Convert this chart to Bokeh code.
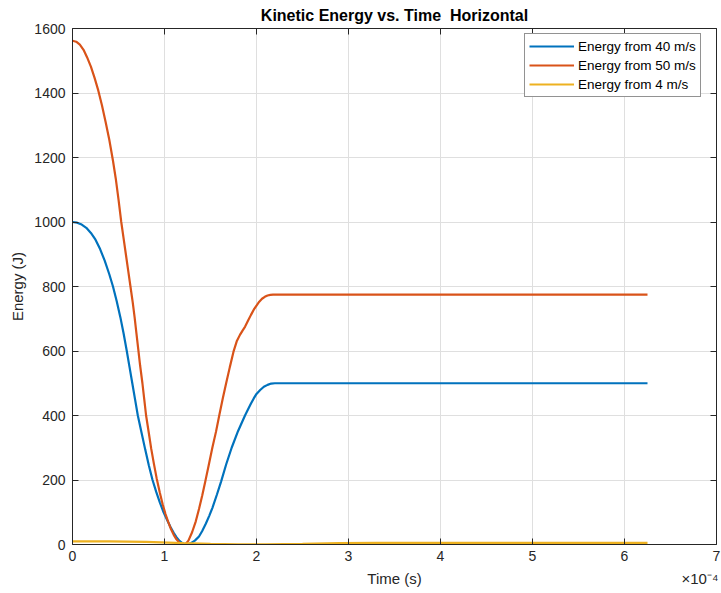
from bokeh.plotting import figure
from bokeh.models import (ColumnDataSource, FixedTicker, LinearAxis, Legend,
                          LegendItem, Range1d)
from bokeh.embed import file_html
from bokeh.resources import INLINE

# Time axis in units of 1e-4 s
t_40 = [0, 0.05, 0.1, 0.15, 0.2, 0.25, 0.3, 0.35, 0.4, 0.44, 0.48, 0.52,
        0.555, 0.59, 0.62, 0.65, 0.68, 0.71, 0.75, 0.79, 0.83, 0.87, 0.91,
        0.95, 0.99, 1.03, 1.065, 1.10, 1.13, 1.16, 1.19, 1.215, 1.24, 1.265,
        1.29, 1.33, 1.375, 1.41, 1.45, 1.485, 1.52, 1.57, 1.615, 1.67, 1.73,
        1.80, 1.875, 1.91, 1.94, 1.97, 2.0, 2.04, 2.08, 2.12, 2.16, 2.2, 6.25]
e_40 = [1000, 998, 992, 982, 966, 945, 916, 880, 838, 800, 755, 705,
        655, 600, 550, 500, 450, 400, 347, 295, 245, 200, 163,
        130, 100, 75, 54, 36, 23, 12, 5, 1.5, 0, 1.5,
        5, 12, 25, 42, 65, 88, 113, 155, 195, 248, 300,
        352, 400, 420, 437, 453, 467, 479, 489, 495, 499, 500, 500]

t_50 = [0, 0.04, 0.08, 0.12, 0.158, 0.2, 0.24, 0.28, 0.32, 0.36, 0.4, 0.44,
        0.47, 0.5, 0.53, 0.555, 0.58, 0.605, 0.63, 0.655, 0.675, 0.695, 0.715,
        0.735, 0.76, 0.78, 0.80, 0.83, 0.855, 0.885, 0.915, 0.95, 0.98, 1.01,
        1.04, 1.07, 1.10, 1.13, 1.16, 1.185, 1.21, 1.235, 1.26, 1.30, 1.34,
        1.375, 1.41, 1.445, 1.48, 1.52, 1.56, 1.595, 1.635, 1.67, 1.71, 1.75,
        1.785, 1.82, 1.85, 1.875, 1.91, 1.94, 1.97, 2.0, 2.03, 2.06, 2.09,
        2.12, 2.15, 2.18, 6.25]
e_50 = [1562, 1559, 1550, 1534, 1511, 1482, 1447, 1408, 1362, 1310, 1255, 1190,
        1135, 1070, 1000, 950, 900, 850, 800, 750, 705, 655, 605,
        555, 500, 450, 400, 345, 298, 250, 205, 160, 125, 95,
        70, 48, 30, 16, 6, 1.5, 0, 3, 12, 38, 72,
        110, 152, 198, 245, 300, 350, 400, 455, 500, 550, 598,
        630, 650, 664, 675, 695, 712, 728, 741, 753, 762, 768,
        772, 774, 775, 775]

t_4 = [0, 0.4, 0.8, 1.2, 1.5, 1.8, 2.1, 2.5, 2.9, 3.3, 6.25]
e_4 = [10, 9.8, 8, 4.5, 2, 0.5, 0.5, 2, 4, 5, 5]

x_ticks = [0, 1, 2, 3, 4, 5, 6, 7]
y_ticks = [0, 200, 400, 600, 800, 1000, 1200, 1400, 1600]

labels = ["Energy from 40 m/s", "Energy from 50 m/s", "Energy from 4 m/s"]
colors = ["#0072BD", "#D95319", "#EDB120"]

FONT = "Liberation Sans"
AX = "#262626"

p = figure(width=721, height=593, output_backend="svg", toolbar_location=None,
           x_range=Range1d(0, 7), y_range=Range1d(0, 1600),
           min_border_left=72, min_border_right=5, min_border_top=28,
           min_border_bottom=49, background_fill_color="white",
           border_fill_color="white", outline_line_color=None)

p.title.text = "Kinetic Energy vs. Time\u00a0 Horizontal"
p.title.align = "center"
p.title.text_font = FONT
p.title.text_font_size = "16px"
p.title.text_font_style = "bold"
p.title.text_color = "black"
p.title.offset = 0
p.title.standoff = 9

renderers = []
for t, e, c in [(t_40, e_40, colors[0]), (t_50, e_50, colors[1]), (t_4, e_4, colors[2])]:
    src = ColumnDataSource(dict(t=t, e=e))
    renderers.append(p.line("t", "e", source=src, line_color=c, line_width=2.2))


def style_axis(ax, show_labels=True):
    ax.axis_line_color = AX
    ax.axis_line_width = 1
    ax.major_tick_line_color = AX
    ax.major_tick_in = 6
    ax.major_tick_out = 0
    ax.minor_tick_line_color = None
    ax.major_label_text_font = FONT
    ax.major_label_text_font_size = "14px"
    ax.major_label_text_color = AX
    ax.axis_label_text_font = FONT
    ax.axis_label_text_font_size = "15px"
    ax.axis_label_text_font_style = "normal"
    ax.axis_label_text_color = AX
    if not show_labels:
        ax.major_label_text_font_size = "0px"
        ax.major_label_text_color = None
        ax.major_label_standoff = 0


xa = p.xaxis[0]
xa.ticker = FixedTicker(ticks=x_ticks)
style_axis(xa)
xa.major_label_standoff = 6

# second row under the time axis: axis title and the exponent of the ticks
xa2 = LinearAxis(ticker=FixedTicker(ticks=[3.5, 6.82]),
                 major_label_overrides={3.5: "Time (s)", 6.82: "×10⁻⁴"})
xa2.axis_line_color = None
xa2.major_tick_line_color = None
xa2.minor_tick_line_color = None
xa2.major_tick_in = 0
xa2.major_tick_out = 0
xa2.major_label_standoff = 6
xa2.major_label_text_font = FONT
xa2.major_label_text_font_size = "15px"
xa2.major_label_text_color = AX
p.add_layout(xa2, "below")

ya = p.yaxis[0]
ya.ticker = FixedTicker(ticks=y_ticks)
ya.axis_label = "Energy (J)"
style_axis(ya)
ya.major_label_standoff = 7
ya.axis_label_standoff = 5

top = LinearAxis(ticker=FixedTicker(ticks=x_ticks))
style_axis(top, show_labels=False)
p.add_layout(top, "above")

right = LinearAxis(ticker=FixedTicker(ticks=y_ticks))
style_axis(right, show_labels=False)
p.add_layout(right, "right")

p.xgrid.ticker = FixedTicker(ticks=x_ticks)
p.ygrid.ticker = FixedTicker(ticks=y_ticks)
for g in (p.xgrid[0], p.ygrid[0]):
    g.grid_line_color = "#dfdfdf"
    g.grid_line_width = 1

legend = Legend(items=[LegendItem(label=l, renderers=[r]) for l, r in zip(labels, renderers)],
                location=(452, 447), orientation="vertical",
                label_text_font=FONT, label_text_font_size="13.5px",
                label_text_color="black", label_height=16, label_standoff=4,
                glyph_width=45, glyph_height=16, spacing=3, padding=4, margin=0,
                border_line_color="#262626", border_line_width=1,
                background_fill_color="white", background_fill_alpha=1)
p.add_layout(legend, "center")

open("out.html", "w").write(file_html(p, INLINE))
